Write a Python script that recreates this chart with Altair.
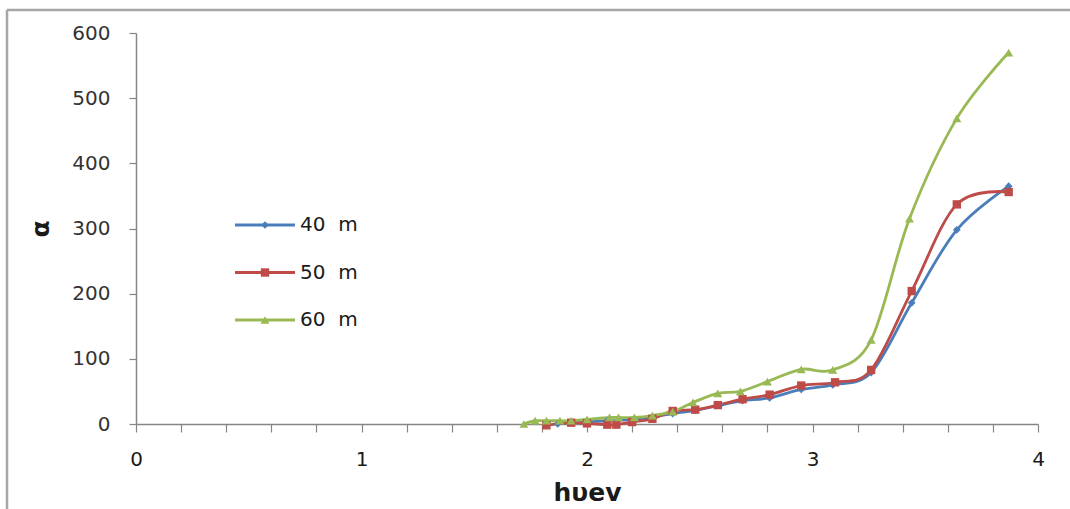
import altair as alt
import pandas as pd

# ---- data ----
series_names = ["40\u00a0 m", "50\u00a0 m", "60\u00a0 m"]

hv_40 = [1.87, 1.93, 2.00, 2.09, 2.21, 2.29, 2.38, 2.48, 2.59, 2.69, 2.81, 2.95, 3.09, 3.26, 3.44, 3.64, 3.87]
alpha_40 = [0, 2, 3, 5, 7, 11, 16, 21, 29, 36, 40, 53, 60, 79, 186, 298, 365]

hv_50 = [1.82, 1.93, 2.00, 2.09, 2.13, 2.20, 2.29, 2.38, 2.48, 2.58, 2.69, 2.81, 2.95, 3.10, 3.26, 3.44, 3.64, 3.87]
alpha_50 = [-2, 2, 1, -1, -1, 3, 8, 20, 22, 29, 38, 45, 59, 64, 83, 204, 337, 356]

hv_60 = [1.72, 1.77, 1.82, 1.88, 1.93, 2.00, 2.10, 2.14, 2.21, 2.29, 2.38, 2.47, 2.58, 2.68, 2.80, 2.95, 3.09, 3.26, 3.43, 3.64, 3.87]
alpha_60 = [0, 5, 5, 5, 5, 7, 10, 10, 10, 13, 19, 33, 47, 50, 65, 84, 83, 129, 315, 469, 570]

x_ticks = [i / 5 for i in range(21)]
y_ticks = [0, 100, 200, 300, 400, 500, 600]

colors = ["#4A7EBB", "#BE4B48", "#98B954"]
marker_shapes = ["diamond", "square", "triangle-up"]
marker_sizes = [60, 80, 75]

rows = []
for name, xs, ys in zip(series_names, [hv_40, hv_50, hv_60], [alpha_40, alpha_50, alpha_60]):
    for xv, yv in zip(xs, ys):
        rows.append({"series": name, "hv": xv, "alpha": yv})
df = pd.DataFrame(rows)
legend_df = pd.DataFrame({"series": series_names})

FONT = "DejaVu Sans"
AX = "#868686"

color_scale = alt.Scale(domain=series_names, range=colors)
shape_scale = alt.Scale(domain=series_names, range=marker_shapes)
size_scale = alt.Scale(domain=series_names, range=marker_sizes)

x_enc = alt.X(
    "hv:Q",
    scale=alt.Scale(domain=[0, 4], nice=False, zero=False),
    axis=alt.Axis(
        values=x_ticks,
        labelExpr="abs(datum.value - round(datum.value)) < 0.001 ? format(datum.value, 'd') : ''",
        title="h\u03c5ev",
        grid=False,
        domainColor=AX,
        domainWidth=1.5,
        tickColor=AX,
        tickSize=8,
        tickWidth=1.2,
        labelFont=FONT,
        labelFontSize=20,
        labelColor="#1a1a1a",
        labelPadding=17,
        labelFlush=False,
        titleFont=FONT,
        titleFontSize=25,
        titleFontWeight="bold",
        titleColor="#1a1a1a",
        titlePadding=11,
    ),
)

y_enc = alt.Y(
    "alpha:Q",
    scale=alt.Scale(domain=[0, 600], nice=False, zero=False),
    axis=alt.Axis(
        values=y_ticks,
        title="\u03b1",
        grid=False,
        domainColor=AX,
        domainWidth=1.5,
        tickColor=AX,
        tickSize=7,
        tickWidth=1.2,
        labelFont=FONT,
        labelFontSize=20,
        labelColor="#333333",
        labelPadding=19,
        titleFont=FONT,
        titleFontSize=25,
        titleFontWeight="bold",
        titleColor="#1a1a1a",
        titlePadding=18,
    ),
)

base = alt.Chart(df)

lines = base.mark_line(interpolate="cardinal", strokeWidth=2.8).encode(
    x=x_enc,
    y=y_enc,
    color=alt.Color("series:N", scale=color_scale, legend=None),
    detail="series:N",
)

points = base.mark_point(filled=True, opacity=1).encode(
    x="hv:Q",
    y="alpha:Q",
    color=alt.Color("series:N", scale=color_scale, legend=None),
    shape=alt.Shape("series:N", scale=shape_scale, legend=None),
    size=alt.Size("series:N", scale=size_scale, legend=None),
)

# ---- hand-drawn legend (line sample + marker + label), inside the plot at left ----
leg_y = alt.Y(
    "series:N",
    scale=alt.Scale(type="point", domain=series_names, range=[192, 287], padding=0),
    axis=None,
)
leg_base = alt.Chart(legend_df)
leg_lines = leg_base.mark_rule(strokeWidth=2.8).encode(
    x=alt.value(99),
    x2=alt.value(159),
    y=leg_y,
    color=alt.Color("series:N", scale=color_scale, legend=None),
)
leg_points = leg_base.mark_point(filled=True, opacity=1).encode(
    x=alt.value(129),
    y=leg_y,
    color=alt.Color("series:N", scale=color_scale, legend=None),
    shape=alt.Shape("series:N", scale=shape_scale, legend=None),
    size=alt.Size("series:N", scale=size_scale, legend=None),
)
leg_text = leg_base.mark_text(
    align="left", baseline="middle", font=FONT, fontSize=20, color="#1a1a1a"
).encode(
    x=alt.value(164),
    y=leg_y,
    text="series:N",
)
legend_layer = alt.layer(leg_lines, leg_points, leg_text)

frame_df = pd.DataFrame({"k": [0]})
frame_left = alt.Chart(frame_df).mark_rule(color="#a6a6a6", strokeWidth=2.5).encode(
    x=alt.value(-129), y=alt.value(-23), y2=alt.value(500)
)
frame_top = alt.Chart(frame_df).mark_rule(color="#a6a6a6", strokeWidth=2.5).encode(
    x=alt.value(-129), x2=alt.value(1000), y=alt.value(-23)
)

main = alt.layer(frame_left, frame_top, lines, points)

chart = (
    alt.layer(main, legend_layer)
    .resolve_scale(y="independent")
    .properties(
        width=902,
        height=391,
        padding={"left": 136, "top": 33, "right": 32, "bottom": 85},
        autosize=alt.AutoSizeParams(type="none"),
        background="white",
    )
    .configure_view(stroke=None)
)

chart.save("out.html", embed_options={"renderer": "svg", "actions": False})
